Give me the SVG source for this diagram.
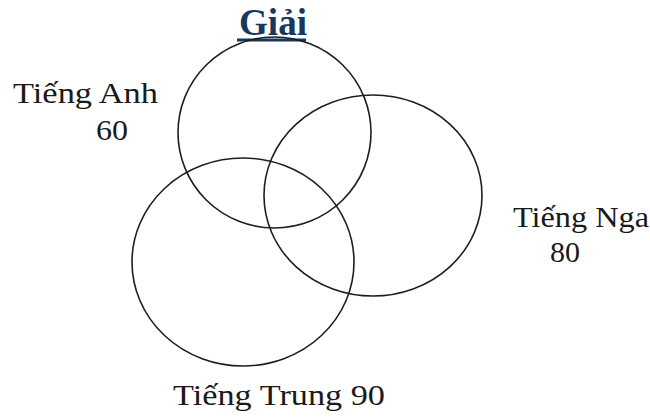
<svg xmlns="http://www.w3.org/2000/svg" width="650" height="417" viewBox="0 0 650 417">
  <style>
    .set { fill: none; stroke: #1e1e1e; stroke-width: 1.6; }
    .lbl { font-family: "Liberation Serif", "Times New Roman", serif; font-size: 30px; fill: #1a1a1a; }
    .title { font-family: "Liberation Serif", "Times New Roman", serif; font-size: 37px; font-weight: bold; fill: #17375e; }
  </style>
  <rect width="650" height="417" fill="#ffffff"/>

  <!-- heading -->
  <g id="title">
    <text class="title" x="239" y="35" textLength="68" lengthAdjust="spacingAndGlyphs">Giải</text>
    <rect x="237" y="38.5" width="69" height="3" fill="#17375e"/>
  </g>

  <!-- three language sets -->
  <g id="set-anh">
    <ellipse class="set" cx="274.5" cy="132.5" rx="96.5" ry="95.5"/>
    <text class="lbl" x="13" y="103" textLength="145" lengthAdjust="spacingAndGlyphs">Tiếng Anh</text>
    <text class="lbl" x="96" y="140" textLength="32" lengthAdjust="spacingAndGlyphs">60</text>
  </g>
  <g id="set-nga">
    <ellipse class="set" cx="373" cy="195.5" rx="109" ry="100.5"/>
    <text class="lbl" x="513" y="227" textLength="136" lengthAdjust="spacingAndGlyphs">Tiếng Nga</text>
    <text class="lbl" x="550" y="262" textLength="30" lengthAdjust="spacingAndGlyphs">80</text>
  </g>
  <g id="set-trung">
    <ellipse class="set" cx="243" cy="262" rx="111" ry="104"/>
    <text class="lbl" x="173" y="405" textLength="212" lengthAdjust="spacingAndGlyphs">Tiếng Trung 90</text>
  </g>
</svg>
